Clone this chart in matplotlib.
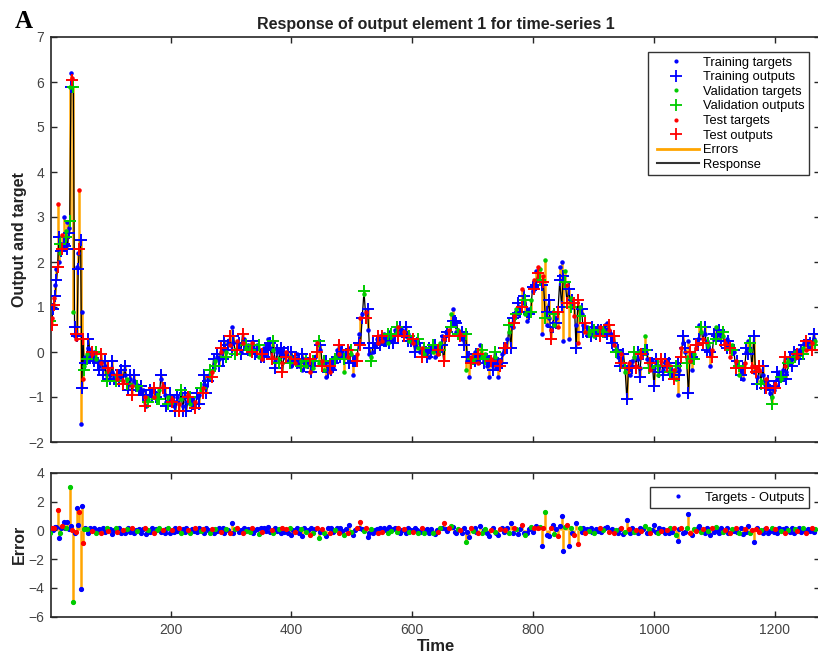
import numpy as np
import matplotlib
matplotlib.use("Agg")
import matplotlib.pyplot as plt
from matplotlib.lines import Line2D
from matplotlib.legend_handler import HandlerLine2D

plt.rcParams['font.family'] = ['Liberation Sans', 'DejaVu Sans']

# ---------------- data ----------------
time_early = list(range(1, 60, 2))
time_main = list(range(61, 1268, 3))

targets_early = [0.55, 0.75, 1.00, 1.20, 1.50, 1.85, 3.30, 2.00, 2.20, 2.40,
                 2.60, 3.00, 2.50, 2.70, 2.90, 2.75, 5.90, 6.20, 6.10, 0.90,
                 0.35, 0.30, 1.90, 2.20, 3.60, -1.60, 0.90, -0.60, -0.30, -0.10]
errors_early = [-0.15, 0.15, 0.05, 0.15, 0.25, 0.25, 1.40, -0.55, -0.20, 0.15,
                0.30, 0.60, 0.15, 0.15, 0.60, 0.10, 3.00, 0.30, 0.05, -5.00,
                -0.20, -0.10, 1.55, 0.35, 1.30, -4.10, 1.70, -0.90, 0.10, 0.15]

targets_main = [
    -0.05, 0.1, 0.05, -0.05, 0.0, -0.15, -0.2, -0.3, -0.25, -0.35,
    -0.3, -0.45, -0.4, -0.5, -0.45, -0.55, -0.5, -0.6, -0.45, -0.55,
    -0.65, -0.5, -0.6, -0.7, -0.6, -0.75, -0.65, -0.7, -0.8, -0.75,
    -0.9, -0.85, -1.0, -1.2, -1.05, -0.95, -0.85, -1.0, -0.9, -1.05,
    -0.85, -0.6, -0.75, -0.95, -1.1, -1.0, -1.15, -1.05, -1.2, -1.1,
    -1.0, -1.15, -1.05, -1.2, -1.0, -1.1, -0.95, -1.15, -1.05, -1.2,
    -1.1, -1.0, -0.95, -0.85, -0.8, -0.7, -0.75, -0.6, -0.55, -0.45,
    -0.35, -0.2, -0.1, -0.15, 0.0, 0.05, 0.1, 0.0, 0.2, 0.15,
    0.55, 0.2, 0.05, 0.25, 0.1, 0.0, 0.2, 0.3, 0.1, 0.15,
    -0.05, 0.2, 0.1, 0.0, 0.15, -0.1, 0.05, -0.15, 0.1, 0.0,
    0.3, 0.1, -0.1, 0.05, -0.2, 0.0, -0.15, -0.05, -0.25, -0.1,
    0.0, -0.2, -0.1, -0.3, -0.15, -0.25, -0.05, -0.3, -0.2, -0.4,
    -0.15, -0.3, -0.2, -0.45, -0.25, -0.35, -0.1, 0.2, -0.25, 0.05,
    -0.2, -0.4, -0.55, -0.3, -0.45, -0.2, -0.35, -0.1, 0.05, -0.05,
    0.1, 0.0, -0.45, 0.05, -0.1, 0.1, -0.05, -0.5, -0.15, -0.05,
    0.4, 0.75, 0.85, 1.3, 0.9, 0.5, -0.05, -0.1, 0.0, 0.15,
    0.3, 0.2, 0.35, 0.25, 0.4, 0.3, 0.2, 0.45, 0.35, 0.3,
    0.5, 0.45, 0.55, 0.4, 0.5, 0.45, 0.35, 0.4, 0.25, 0.3,
    0.2, 0.15, 0.25, 0.1, 0.0, 0.1, -0.05, 0.05, 0.0, -0.1,
    0.1, 0.0, -0.1, 0.05, -0.05, 0.2, 0.35, 0.3, 0.45, 0.4,
    0.5, 0.85, 0.95, 0.6, 0.45, 0.5, 0.4, 0.3, 0.35, -0.4,
    -0.2, -0.55, -0.1, -0.2, 0.0, -0.15, -0.25, 0.15, -0.1, -0.2,
    -0.05, -0.3, -0.55, -0.15, -0.25, -0.1, -0.35, -0.55, -0.2, -0.05,
    0.0, 0.15, 0.3, 0.45, 0.6, 0.55, 0.8, 0.95, 0.85, 1.0,
    1.4, 1.1, 0.85, 0.7, 0.95, 1.15, 1.35, 1.6, 1.8, 1.9,
    1.85, 0.4, 1.7, 2.05, 0.6, 0.75, 0.5, 0.9, 0.6, 0.75,
    0.55, 1.9, 2.0, 0.25, 1.8, 1.5, 0.3, 1.2, 1.0, 0.8,
    0.6, 0.2, 1.0, 0.85, 0.6, 0.45, 0.55, 0.4, 0.5, 0.45,
    0.35, 0.5, 0.45, 0.55, 0.4, 0.5, 0.6, 0.65, 0.5, 0.4,
    0.3, 0.15, 0.05, -0.1, -0.2, -0.05, -0.3, -0.45, -0.35, -0.25,
    -0.5, -0.2, -0.1, -0.3, -0.15, -0.35, -0.1, 0.05, 0.35, -0.15,
    -0.25, -0.4, -0.2, -0.35, -0.25, -0.5, -0.3, -0.2, -0.4, -0.3,
    -0.25, -0.45, -0.3, -0.55, -0.4, -0.6, -0.95, -0.4, 0.1, 0.2,
    0.0, -0.1, 0.25, -0.2, -0.4, -0.05, 0.1, 0.3, 0.6, 0.45,
    0.3, 0.4, 0.25, 0.15, -0.3, 0.05, 0.3, 0.55, 0.4, 0.3,
    0.4, 0.35, 0.2, 0.3, 0.1, -0.1, 0.15, 0.0, -0.2, -0.3,
    -0.5, -0.35, -0.6, -0.25, 0.0, 0.25, 0.05, -0.3, -0.45, -0.35,
    -0.55, -0.4, -0.65, -0.5, -0.7, -0.6, -0.8, -0.9, -1.0, -0.85,
    -0.7, -0.6, -0.45, -0.6, -0.4, -0.3, -0.45, -0.2, -0.25, -0.1,
    -0.15, 0.0, -0.1, 0.05, -0.05, 0.1, 0.2, 0.05, 0.25, 0.15,
    0.2, 0.3, 0.25]

errors_main = [
    0.1, -0.2, 0.15, -0.05, 0.2, -0.15, 0.05, 0.1, -0.2, 0.15,
    -0.1, 0.2, -0.05, 0.1, -0.25, 0.05, 0.15, -0.1, 0.2, -0.15,
    0.05, -0.2, 0.1, 0.15, -0.1, 0.2, -0.15, 0.05, -0.05, 0.1,
    -0.15, 0.1, 0.2, -0.25, 0.05, -0.1, 0.15, -0.2, 0.1, 0.0,
    0.2, -0.1, 0.05, -0.15, 0.1, 0.15, -0.2, 0.05, -0.1, 0.2,
    -0.05, 0.15, -0.2, 0.1, -0.1, 0.2, 0.05, -0.15, 0.1, -0.05,
    0.15, -0.1, 0.2, -0.05, 0.1, -0.2, 0.15, 0.05, -0.15, 0.1,
    -0.2, 0.1, -0.05, 0.15, -0.1, 0.2, -0.15, 0.1, 0.05, -0.2,
    0.5, -0.15, 0.1, 0.2, -0.1, 0.05, -0.2, 0.15, -0.05, 0.1,
    -0.1, 0.2, -0.15, 0.05, 0.1, -0.25, 0.15, -0.1, 0.2, -0.05,
    0.25, -0.1, 0.05, -0.2, 0.15, -0.05, 0.1, -0.15, 0.2, -0.1,
    0.1, -0.2, 0.15, -0.3, 0.05, -0.1, 0.2, -0.15, 0.1, -0.35,
    0.15, -0.1, 0.05, -0.3, 0.2, -0.15, 0.1, 0.2, -0.5, -0.1,
    0.1, -0.2, -0.35, 0.15, -0.15, 0.2, -0.1, 0.05, 0.15, -0.2,
    0.2, -0.05, -0.3, 0.1, -0.15, 0.35, -0.1, -0.3, 0.05, 0.15,
    0.2, 0.6, 0.1, -0.05, 0.15, -0.45, -0.15, 0.1, -0.2, 0.05,
    0.1, -0.15, 0.2, -0.1, 0.15, 0.05, -0.2, 0.25, -0.05, 0.1,
    0.15, -0.1, 0.2, -0.15, 0.05, 0.1, -0.2, 0.15, -0.1, 0.05,
    -0.1, 0.15, 0.05, -0.2, -0.1, 0.2, -0.15, 0.05, 0.1, -0.2,
    0.1, -0.15, -0.25, 0.05, -0.1, 0.15, 0.2, 0.5, 0.1, -0.05,
    0.15, 0.3, 0.25, -0.1, -0.2, 0.1, 0.05, -0.15, 0.2, -0.8,
    -0.1, -0.45, 0.15, -0.05, 0.2, -0.1, -0.2, 0.3, -0.15, 0.05,
    0.1, -0.15, -0.35, 0.05, 0.15, -0.1, -0.2, -0.3, 0.1, 0.2,
    -0.1, 0.05, 0.2, -0.15, 0.5, -0.2, 0.15, 0.1, -0.25, 0.1,
    0.4, -0.15, -0.3, -0.2, 0.1, 0.25, -0.1, 0.2, 0.3, 0.15,
    0.25, -1.1, 0.15, 1.3, -0.3, -0.4, 0.2, 0.35, -0.25, 0.1,
    -0.35, 0.3, 1.0, -1.45, 0.25, 0.4, -1.1, 0.2, -0.15, -0.3,
    0.5, -0.95, 0.2, -0.1, 0.15, -0.2, 0.1, -0.05, 0.15, -0.1,
    -0.15, 0.1, -0.05, 0.2, -0.1, 0.05, 0.15, 0.25, -0.1, 0.05,
    0.1, -0.2, 0.05, -0.15, 0.1, 0.2, -0.25, -0.1, 0.7, 0.1,
    -0.2, 0.15, -0.1, 0.05, -0.15, 0.2, -0.05, 0.1, 0.3, -0.2,
    0.1, -0.15, 0.05, 0.4, -0.1, -0.2, 0.15, -0.05, 0.1, -0.15,
    0.05, -0.2, 0.15, -0.1, 0.2, -0.3, -0.7, 0.1, 0.2, -0.15,
    -0.1, 0.15, 1.15, -0.2, -0.3, 0.1, -0.05, 0.15, 0.3, -0.1,
    0.1, -0.15, 0.2, -0.05, -0.3, 0.15, -0.1, 0.25, 0.05, -0.2,
    0.15, -0.1, 0.05, 0.2, -0.15, -0.2, 0.1, -0.05, 0.15, -0.1,
    -0.2, 0.15, -0.25, 0.1, -0.1, 0.3, -0.15, 0.05, -0.8, 0.1,
    0.15, -0.1, 0.05, -0.2, 0.1, 0.2, -0.15, -0.05, 0.15, -0.1,
    0.1, -0.15, 0.2, -0.05, 0.1, -0.2, 0.15, 0.05, -0.1, 0.2,
    -0.15, 0.1, -0.05, 0.2, -0.1, 0.15, 0.05, -0.2, 0.1, -0.05,
    0.15, -0.1, 0.1]

# T = training, V = validation, S = test
sets_early = "VSTSTTSTVT" "STTVTTVTSV" "TSTTSTTSVT"
sets_main = ("VTTSTVTTST" "TVSTTTVSTT" "STVTTSTTVT" "TTSTVTTSTV"
             "VTSTTVTSTT" "TSVTTTSVTT" "STTVSTTTVS" "TVTTSTTVTS"
             "TTVSTTSTVT" "VSTTTVTSTT" "TTSVTTVTST" "STVTTSTTVT"
             "TVTSTVTSVT" "SVTTSTTVTS" "TTVTSTVTTS" "TSTVSTTVTT"
             "TSTSTTVTVT" "TVSTTSTTVT" "STTVTSVTTT" "TVTTSVTSTT"
             "SVTTTVSTTV" "TTSVTTSTVT" "VTTSTVTTST" "TSTVTTSVTT"
             "STVTTVTSTS" "VTSVTTSTVT" "STTTVSTVTS" "TSVTTSTVTT"
             "VTTSTVTTST" "TSVTTSTVTS" "TTVSTTSTVT" "VSTTTVTSTT"
             "STVTSVTTST" "TVTSTVSTTV" "STTVTSTVTT" "TVSTTSVTST"
             "VTTSTTVSTS" "TSVTTSTTVT" "STTVTSTVTT" "TVSTTVTSTT"
             "STV")

time = np.array(time_early + time_main, dtype=float)
targets = np.array(targets_early + targets_main)
errors = np.array(errors_early + errors_main)
outputs = targets - errors
sets = np.array(list(sets_early + sets_main))

set_info = [("T", "#0000ff", "Training"),
            ("V", "#00cc00", "Validation"),
            ("S", "#ff0000", "Test")]
orange = "#ffa500"


class InsetLineHandler(HandlerLine2D):
    def __init__(self, inset, **kw):
        super().__init__(**kw)
        self.inset = inset

    def create_artists(self, legend, orig_handle, xdescent, ydescent, width,
                       height, fontsize, trans):
        return super().create_artists(legend, orig_handle, xdescent - self.inset,
                                      ydescent, width - self.inset, height,
                                      fontsize, trans)


# ---------------- figure ----------------
W, H = 818, 655
fig = plt.figure(figsize=(W / 100, H / 100), dpi=100)
left_px, right_px = 50.7, 820.5
ax1 = fig.add_axes([left_px / W, 1 - 442 / H, (right_px - left_px) / W, (442 - 37) / H])
ax2 = fig.add_axes([left_px / W, 1 - 616.7 / H, (right_px - left_px) / W, 143.7 / H])

# top panel
lo = np.minimum(targets, outputs)
hi = np.maximum(targets, outputs)
ax1.vlines(time, lo, hi, color=orange, lw=1.8, zorder=1)
ax1.plot(time, outputs, color="k", lw=0.9, zorder=2)
for key, col, name in set_info:
    m = sets == key
    ax1.plot(time[m], targets[m], ls="none", marker=".", ms=4.5, color=col, zorder=3)
    ax1.plot(time[m], outputs[m], ls="none", marker="+", ms=8.5, mew=1.4, color=col, zorder=3)

# bottom panel
ax2.vlines(time, np.minimum(errors, 0), np.maximum(errors, 0), color=orange, lw=1.8, zorder=1)
for key, col, name in set_info:
    m = sets == key
    ax2.plot(time[m], errors[m], ls="none", marker=".", ms=5.5, color=col, zorder=3)

xlim = (1.5, 1275.5)
for ax in (ax1, ax2):
    ax.set_xlim(*xlim)
    ax.set_xticks([200, 400, 600, 800, 1000, 1200])
    ax.tick_params(direction="in", length=4, width=1, top=True, right=True,
                   labelsize=10, labelcolor="#444444", color="#262626", pad=4.5)
    for sp in ax.spines.values():
        sp.set_color("#262626")
        sp.set_linewidth(1.2)

ax1.set_ylim(-2, 7)
ax1.set_yticks(range(-2, 8))
ax1.tick_params(labelbottom=False)
ax2.set_ylim(-6, 4)
ax2.set_yticks([-6, -4, -2, 0, 2, 4])

ax1.set_title("Response of output element 1 for time-series 1", fontsize=11.5,
              fontweight="bold", color="#222222", pad=6)
ax1.set_ylabel("Output and target", fontsize=11.5, fontweight="bold", color="#222222")
ax1.yaxis.set_label_coords(-0.031, 0.5)
ax2.set_ylabel("Error", fontsize=11.5, fontweight="bold", color="#222222")
ax2.yaxis.set_label_coords(-0.031, 0.5)
ax2.set_xlabel("Time", fontsize=12, fontweight="bold", color="#222222")
ax2.xaxis.set_label_coords(0.5, -0.152)

fig.text(15 / W, 1 - 28 / H, "A", fontsize=18, fontweight="bold",
         family="Liberation Serif", va="baseline", ha="left")

# legends
handles, labels = [], []
for key, col, name in set_info:
    handles.append(Line2D([], [], ls="none", marker=".", ms=4, color=col))
    labels.append(f"{name} targets")
    handles.append(Line2D([], [], ls="none", marker="+", ms=8, mew=1.3, color=col))
    labels.append(f"{name} outputs")
err_handle = Line2D([], [], color=orange, lw=2)
resp_handle = Line2D([], [], color="#333333", lw=1.5)
handles += [err_handle, resp_handle]
labels += ["Errors", "Response"]
leg_kw = dict(loc="upper right", borderaxespad=0, fontsize=9.3, handlelength=3.6,
              handletextpad=0.3, borderpad=0.35, numpoints=1,
              fancybox=False, edgecolor="#333333", framealpha=1)
leg = ax1.legend(handles, labels, bbox_to_anchor=(0.985, 0.963), labelspacing=0.2,
                 handler_map={err_handle: InsetLineHandler(3.3),
                              resp_handle: InsetLineHandler(3.3)}, **leg_kw)
leg.get_frame().set_linewidth(1.0)

leg2 = ax2.legend([Line2D([], [], ls="none", marker=".", ms=4, color="#0000ff")],
                  ["Targets - Outputs"], bbox_to_anchor=(0.985, 0.903), **leg_kw)
leg2.get_frame().set_linewidth(1.0)

fig.savefig("out.png", dpi=100)
